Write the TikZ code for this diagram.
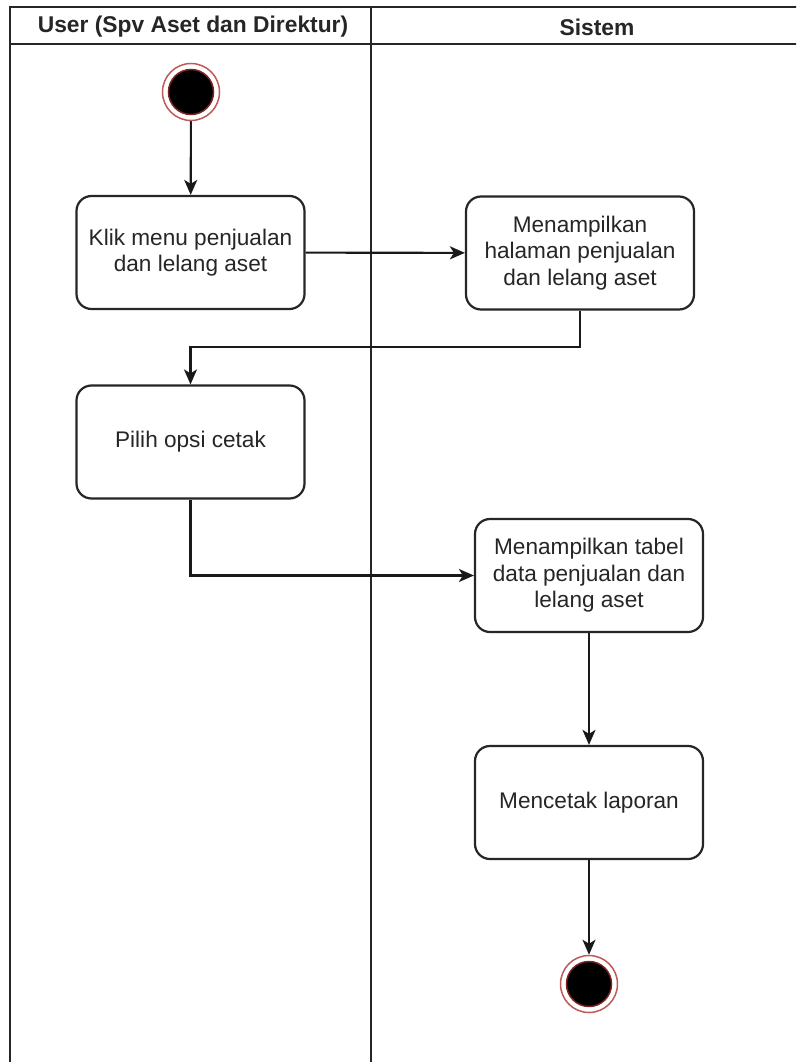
\documentclass[tikz,border=0pt]{standalone}
\usepackage{fontspec}
\setmainfont{Liberation Sans}
\usetikzlibrary{arrows.meta}
\definecolor{txt}{HTML}{262626}
\definecolor{ring}{HTML}{B03030}
\tikzset{
  act/.style={draw=black!85, line width=2.2pt, rounded corners=15pt, fill=white,
    minimum width=228pt, minimum height=113pt, align=center, text=txt,
    font=\fontsize{22.6}{26.5}\selectfont, inner sep=0pt},
  flow/.style={draw=black!90, line width=2.1pt,
    -{Stealth[length=15pt,width=13pt,inset=4pt]}},
  lane/.style={draw=black!85, line width=2.1pt},
  hdr/.style={font=\fontsize{22.8}{26}\selectfont\bfseries, text=txt},
  ringout/.style={draw=ring!80, line width=1.5pt, circle, minimum size=57pt, inner sep=0pt},
  ringin/.style={draw=ring!70!black, fill=black, line width=1.5pt, circle, minimum size=45pt, inner sep=0pt}
}
\begin{document}
\begin{tikzpicture}[x=1pt,y=-1pt]
\useasboundingbox (0,0) rectangle (796,1062);
\fill[white] (0,0) rectangle (796,1062);
\begin{scope}
\clip (0,0) rectangle (796,1062);
% swimlane frame
\draw[lane] (10,1070) -- (10,7) -- (810,7);
\draw[lane] (10,44) -- (810,44);
\draw[lane] (371,7) -- (371,1070);
\end{scope}
\node[hdr] (h1) at (193,27) {User (Spv Aset dan Direktur)};
\node[hdr] (h2) at (597,27) {Sistem};

% initial state
\node[ringout] (start) at (191,92) {};
\node[ringin] (startin) at (191,92) {};

% activities
\node[act] (a1) at (190.5,252.5) {Klik menu penjualan\\dan lelang aset};
\node[act] (a2) at (580,253) {Menampilkan\\halaman penjualan\\dan lelang aset};
\node[act] (a3) at (190.5,442) {Pilih opsi cetak};
\node[act] (a4) at (589,575.5) {Menampilkan tabel\\data penjualan dan\\lelang aset};
\node[act] (a5) at (589,802.5) {Mencetak laporan};

% final state
\node[ringout] (end) at (589,984) {};
\node[ringin] (endin) at (589,984) {};

% control flow
\draw[flow] (start) -- (a1);
\draw[flow] (a1) -- (a2);
\draw[flow] (a2.south) |- (190.5,347) -- (a3.north);
\draw[flow] (a3.south) |- (a4.west);
\draw[flow] (a4) -- (a5);
\draw[flow] (a5) -- (end);
\end{tikzpicture}
\end{document}
